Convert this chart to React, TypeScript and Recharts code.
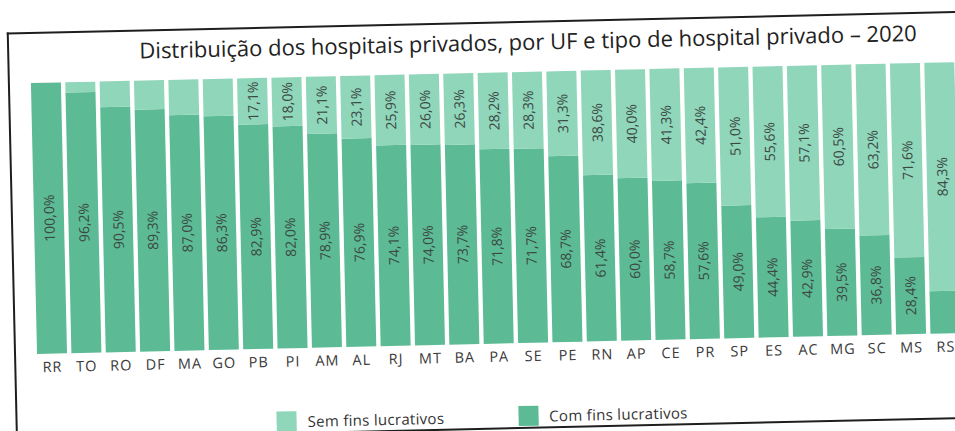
import { BarChart, Bar, XAxis, YAxis, LabelList } from "recharts";

const ufs = ["RR", "TO", "RO", "DF", "MA", "GO", "PB", "PI", "AM", "AL", "RJ", "MT", "BA", "PA", "SE", "PE", "RN", "AP", "CE", "PR", "SP", "ES", "AC", "MG", "SC", "MS", "RS"];
const comFins = [100.0, 96.2, 90.5, 89.3, 87.0, 86.3, 82.9, 82.0, 78.9, 76.9, 74.1, 74.0, 73.7, 71.8, 71.7, 68.7, 61.4, 60.0, 58.7, 57.6, 49.0, 44.4, 42.9, 39.5, 36.8, 28.4, 15.7];
const semFins = [0.0, 3.8, 9.5, 10.7, 13.0, 13.7, 17.1, 18.0, 21.1, 23.1, 25.9, 26.0, 26.3, 28.2, 28.3, 31.3, 38.6, 40.0, 41.3, 42.4, 51.0, 55.6, 57.1, 60.5, 63.2, 71.6, 84.3];

const TITLE = "Distribuição dos hospitais privados, por UF e tipo de hospital privado – 2020";
const COM = "#5cbb94";
const SEM = "#8fd6ba";
const FONT = "'Open Sans', 'Noto Sans', sans-serif";

const data = ufs.map((uf, i) => ({ uf, com: comFins[i], sem: semFins[i] }));

const fmt = (v: number) => v.toFixed(1).replace(".", ",") + "%";

// vertical label in the middle of a segment, hidden on small slices
function SegmentLabel(props: any) {
  const { x, y, width, height, value } = props;
  if (value == null || value < 16) return null;
  const cx = x + width / 2;
  const cy = y + height / 2;
  return (
    <text
      x={cx}
      y={cy}
      transform={`rotate(-90 ${cx} ${cy})`}
      textAnchor="middle"
      dominantBaseline="central"
      fontSize={14}
      fontFamily={FONT}
      fill="#3b4843"
    >
      {fmt(value)}
    </text>
  );
}

function LegendBox() {
  const items = [
    { label: "Sem fins lucrativos", color: SEM },
    { label: "Com fins lucrativos", color: COM },
  ];
  return (
    <div style={{ position: "absolute", left: 272, top: 407, display: "flex", gap: 74, fontFamily: FONT, fontSize: 15, letterSpacing: 0.3, color: "#333" }}>
      {items.map((it) => (
        <div key={it.label} style={{ display: "flex", alignItems: "center", gap: 11 }}>
          <span style={{ width: 20, height: 20, background: it.color, display: "inline-block" }} />
          <span>{it.label}</span>
        </div>
      ))}
    </div>
  );
}

export default function App() {
  return (
    <div style={{ position: "fixed", left: 0, top: 0, width: 955, height: 431, overflow: "hidden", background: "#fff" }}>
      {/* the source is a slightly tilted scan */}
      <div style={{ position: "absolute", left: 0, top: 0, width: 955, height: 431, transform: "rotate(-1.3deg)", transformOrigin: "477px 215px" }}>
        <div
          style={{
            position: "absolute",
            left: 11,
            top: 22,
            width: 1100,
            height: 404,
            borderLeft: "2px solid #1e1e1e",
            borderTop: "2px solid #1e1e1e",
            borderBottom: "2px solid #1e1e1e",
          }}
        />
        <div
          style={{
            position: "absolute",
            left: 132,
            width: 800,
            top: 27,
            textAlign: "center",
            fontFamily: FONT,
            fontSize: 22,
            color: "#222",
            whiteSpace: "nowrap",
          }}
        >
          {TITLE}
        </div>
        <div style={{ position: "absolute", left: 0, top: 0 }}>
          <BarChart width={1000} height={431} data={data} margin={{ top: 73, right: 40, bottom: 57, left: 32 }} barCategoryGap="12%">
            <XAxis
              dataKey="uf"
              axisLine={false}
              tickLine={false}
              interval={0}
              height={30}
              tick={{ fontSize: 14.5, fontFamily: FONT, fill: "#3a3a3a", letterSpacing: 1 }}
            />
            <YAxis hide domain={[0, 100]} />
            <Bar dataKey="com" stackId="a" fill={COM} barSize={30} isAnimationActive={false}>
              <LabelList dataKey="com" content={SegmentLabel} />
            </Bar>
            <Bar dataKey="sem" stackId="a" fill={SEM} barSize={30} isAnimationActive={false}>
              <LabelList dataKey="sem" content={SegmentLabel} />
            </Bar>
          </BarChart>
        </div>
        <LegendBox />
      </div>
    </div>
  );
}
